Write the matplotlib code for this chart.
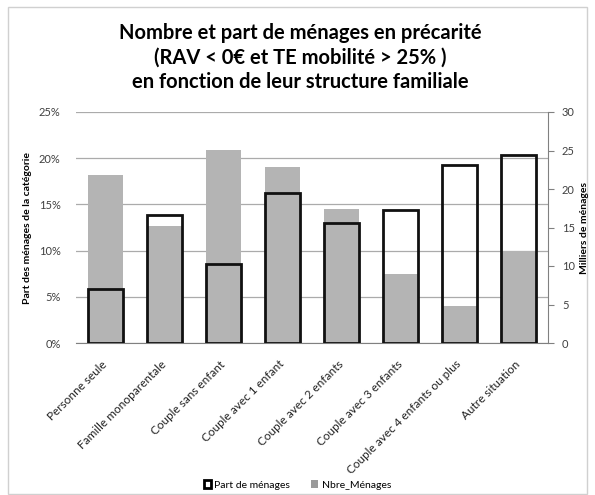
import matplotlib
matplotlib.use("Agg")
import matplotlib.pyplot as plt
from matplotlib.patches import Patch, Rectangle
import numpy as np

plt.rcParams['font.family'] = ['Lato', 'DejaVu Sans']

categories = ["Personne seule", "Famille monoparentale", "Couple sans enfant",
              "Couple avec 1 enfant", "Couple avec 2 enfants", "Couple avec 3 enfants",
              "Couple avec 4 enfants ou plus", "Autre situation"]
part_menages = [5.8, 13.9, 8.5, 16.2, 13.0, 14.4, 19.3, 20.3]      # % (left axis)
nbre_menages = [21.8, 15.2, 25.1, 22.8, 17.4, 8.9, 4.8, 12.0]       # milliers (right axis)
left_ticks = [0, 5, 10, 15, 20, 25]
right_ticks = [0, 5, 10, 15, 20, 25, 30]

fig = plt.figure(figsize=(5.95, 4.95), dpi=100)
fig.patches.append(Rectangle((8/595, 1/495), 579/595, 487/495, transform=fig.transFigure,
                             fill=False, edgecolor='#d0d0d0', lw=1.0))

ax = fig.add_axes([76/595, (495-343)/495, 472/595, 231/495])
ax2 = ax.twinx()
ax3 = ax.twinx()
ax.set_zorder(1); ax2.set_zorder(2); ax3.set_zorder(3)
ax2.patch.set_visible(False); ax3.patch.set_visible(False)

x = np.arange(len(categories))
w = 0.59
grid_c = '#ababab'

# left axis: grid + labels
ax.set_xlim(-0.5, len(categories) - 0.5)
ax.set_ylim(0, 25)
ax.set_yticks(left_ticks)
ax.set_yticklabels([f"{t}%" for t in left_ticks], fontsize=8, color='#404040')
ax.tick_params(axis='y', length=0, pad=11)
ax.grid(axis='y', color=grid_c, lw=0.9)
ax.set_axisbelow(True)
for s in ['left', 'top', 'right']:
    ax.spines[s].set_visible(False)
ax.spines['bottom'].set_color('#808080')
ax.set_xticks(x)
ax.set_xticklabels(categories, rotation=45, ha='right', va='center', rotation_mode='anchor',
                   fontsize=8.5, color='#202020')
ax.tick_params(axis='x', length=0, pad=14)
ax.set_ylabel("Part des ménages de la catégorie", fontsize=7.5, fontweight='bold', labelpad=5)

# right axis: gray bars
ax2.bar(x, nbre_menages, width=w, color='#b4b4b4', edgecolor='none')
ax2.set_ylim(0, 30)
ax2.set_yticks(right_ticks)
ax2.set_yticklabels([str(t) for t in right_ticks], fontsize=8, color='#404040')
ax2.tick_params(axis='y', length=4, color='#808080', pad=6)
for s in ['left', 'top', 'bottom']:
    ax2.spines[s].set_visible(False)
ax2.spines['right'].set_color('#808080')
ax2.set_ylabel("Milliers de ménages", fontsize=7.5, fontweight='bold', labelpad=4)

# outlined bars on top, left scale
ax3.bar(x, part_menages, width=w, facecolor='none', edgecolor='#111111', lw=2.0)
ax3.set_ylim(ax.get_ylim())
ax3.set_yticks([])
for s in ax3.spines.values():
    s.set_visible(False)

fig.text(0.505, 0.884, "Nombre et part de ménages en précarité\n(RAV < 0€ et TE mobilité > 25% )\nen fonction de leur structure familiale",
         ha='center', va='center', fontsize=14.5, fontweight='bold', linespacing=1.27)

handles = [Patch(facecolor='white', edgecolor='black', lw=2.0, label='Part de ménages'),
           Patch(facecolor='#9a9a9a', edgecolor='none', label='Nbre_Ménages')]
fig.legend(handles=handles, loc='center', bbox_to_anchor=(0.5, (495-485)/495),
           ncol=2, frameon=False, fontsize=7.5, handlelength=0.7, handleheight=0.7,
           handletextpad=0.3, columnspacing=2.0)

fig.savefig("out.png", dpi=100)
